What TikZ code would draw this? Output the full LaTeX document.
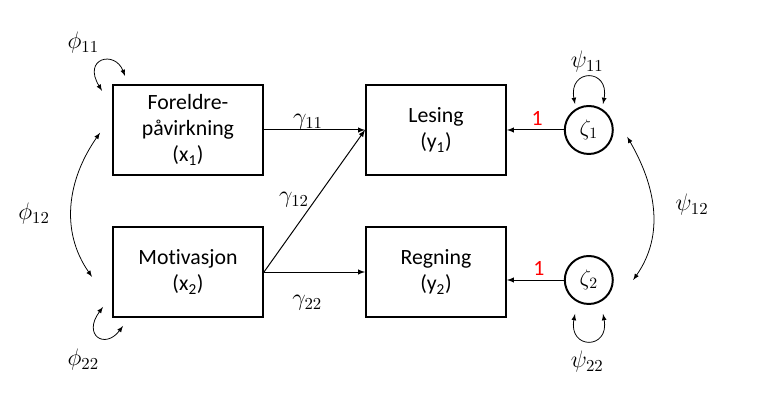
\RequirePackage{fix-cm}
\documentclass[tikz,border=0pt]{standalone}
\usepackage[no-math]{fontspec}
\setmainfont[RawFeature={-liga;-clig;-dlig;-calt}]{Carlito}
\tikzset{
  obs/.style={draw=black,line width=1.4pt,minimum width=3.75cm,minimum height=2.25cm,align=center,font=\fontsize{15.5}{18.5}\selectfont},
  err/.style={draw=black,circle,line width=1.4pt,minimum size=1.2cm,inner sep=0pt,font=\fontsize{16}{18.5}\selectfont},
  lab/.style={font=\fontsize{17}{20}\selectfont},
  path/.style={->,line width=0.7pt},
  cov/.style={<->,line width=0.55pt}
}
\begin{document}
\begin{tikzpicture}[>=latex]
        \useasboundingbox (0,0) rectangle (19.2,10);
        \node[obs] (x1) at (4.7,6.75) {Foreldre-\\påvirkning\\(x\textsubscript{1})};
        \node[obs] (x2) at (4.7,3.2) {Motivasjon\\(x\textsubscript{2})};
        \node[obs,minimum width=3.5cm] (y1) at (10.9,6.75) {Lesing\\(y\textsubscript{1})};
        \node[obs,minimum width=3.5cm] (y2) at (10.9,3.2) {Regning\\(y\textsubscript{2})};
        \node[err] (z1) at (14.72,6.75) {$\zeta_1$};
        \node[err] (z2) at (14.72,3.0) {$\zeta_2$};

        \draw[path] (x1) -- (y1);
        \draw[path] (x2.east) -- (y1.west);
        \draw[path] (x2) -- (y2);
        \draw[path] (z1) -- (z1 -| y1.east);
        \draw[path] (z2) -- (z2 -| y2.east);

        \node[lab] (g11) at (7.7,6.95) {$\gamma_{11}$};
        \node[lab] (g12) at (7.35,5.0) {$\gamma_{12}$};
        \node[lab] (g22) at (7.68,2.43) {$\gamma_{22}$};
        \node[lab,font=\fontsize{15.5}{18}\selectfont,text=red] (one1) at (13.43,7.05) {1};
        \node[lab,font=\fontsize{15.5}{18}\selectfont,text=red] (one2) at (13.47,3.28) {1};

        % variances and covariances of the x's
        \coordinate (p11a) at (2.55,7.73);
        \coordinate (p11b) at (3.125,8.1);
        \draw[cov] (p11a) .. controls (2.05,8.55) and (2.875,8.75) .. (p11b);
        \coordinate (p22a) at (2.575,2.325);
        \coordinate (p22b) at (3.075,1.85);
        \draw[cov] (p22a) .. controls (2.05,1.625) and (2.625,1.25) .. (p22b);
        \coordinate (p12a) at (2.5,6.68);
        \coordinate (p12b) at (2.3,3.08);
        \draw[cov] (p12a) to[out=235,in=125] (p12b);
        \node[lab] (phi11) at (2.08,8.93) {$\phi_{11}$};
        \node[lab] (phi22) at (2.08,1.0) {$\phi_{22}$};
        \node[lab] (phi12) at (0.85,4.65) {$\phi_{12}$};

        % disturbances
        \coordinate (s11a) at (14.375,7.4);
        \coordinate (s11b) at (15.075,7.4);
        \draw[cov] (s11a) .. controls (14.2,8.3) and (15.25,8.3) .. (s11b);
        \coordinate (s22a) at (14.375,2.15);
        \coordinate (s22b) at (15.075,2.15);
        \draw[cov] (s22a) .. controls (14.2,1.25) and (15.25,1.25) .. (s22b);
        \coordinate (s12a) at (15.68,6.58);
        \coordinate (s12b) at (15.83,3.0);
        \draw[cov] (s12a) to[out=-60,in=55] (s12b);
        \node[lab] (psi11) at (14.68,8.45) {$\psi_{11}$};
        \node[lab] (psi22) at (14.68,0.95) {$\psi_{22}$};
        \node[lab] (psi12) at (17.3,4.88) {$\psi_{12}$};
\end{tikzpicture}
\end{document}
